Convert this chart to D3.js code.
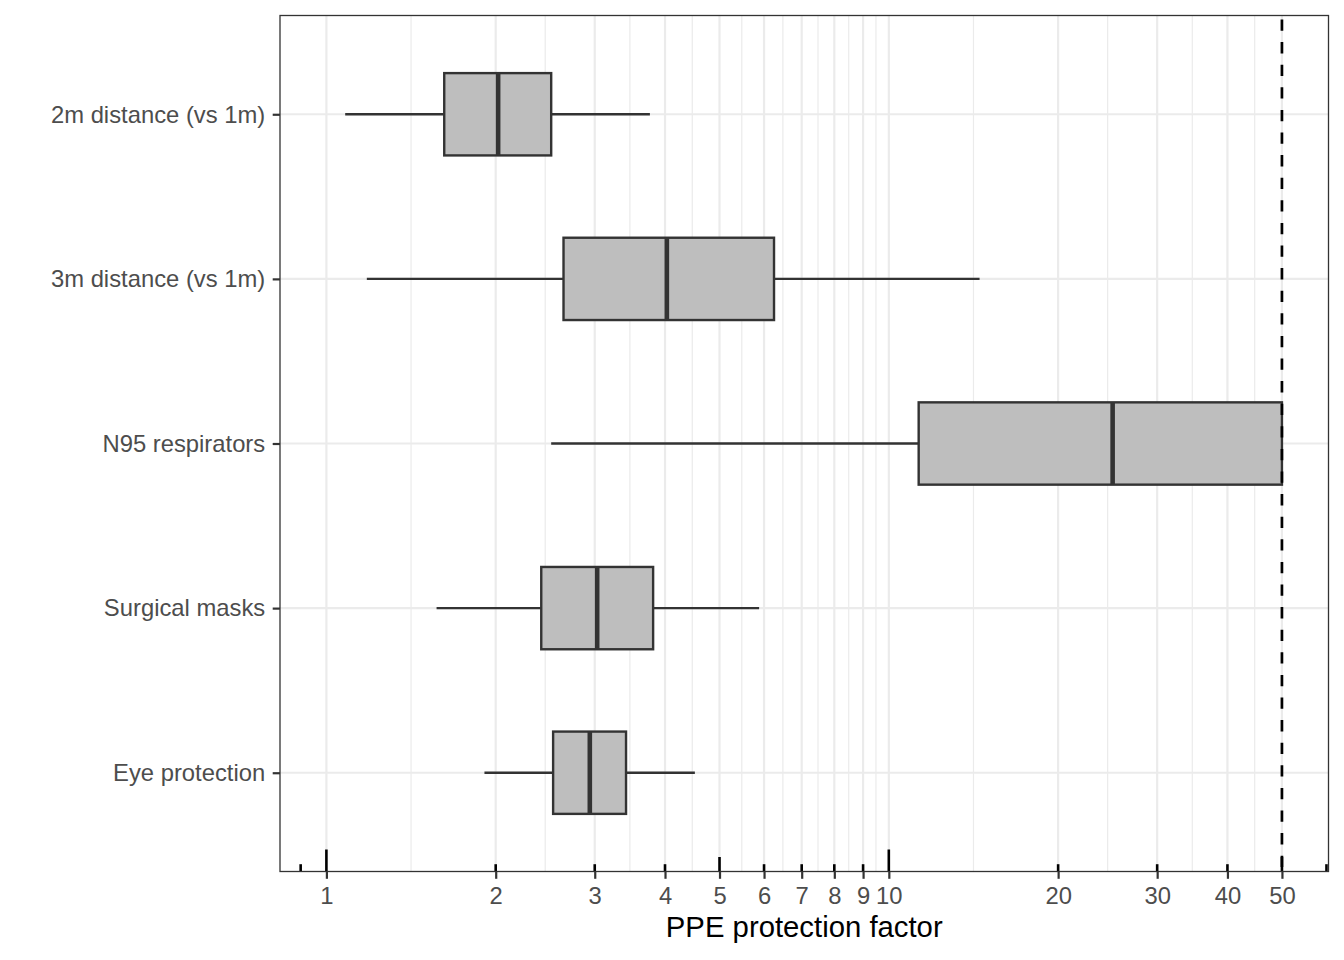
<!DOCTYPE html>
<html>
<head>
<meta charset="utf-8">
<script src="https://cdnjs.cloudflare.com/ajax/libs/d3/7.8.5/d3.min.js"></script>
<style>
  body { margin: 0; background: #fff; }
  text { font-family: "Liberation Sans", Arial, sans-serif; }
</style>
</head>
<body>
<svg id="grafico" width="1344" height="960"></svg>
<script>
// dados (fator de proteção, escala log)
var categorias = ["2m distance (vs 1m)", "3m distance (vs 1m)", "N95 respirators", "Surgical masks", "Eye protection"];
var bigodeInf  = [1.08, 1.18, 2.51, 1.57, 1.91];
var quartil1   = [1.62, 2.64, 11.3, 2.41, 2.53];
var mediana    = [2.02, 4.03, 25.0, 3.03, 2.94];
var quartil3   = [2.51, 6.25, 50, 3.81, 3.41];
var bigodeSup  = [3.76, 14.5, 50, 5.88, 4.52];

var ticksX = [1, 2, 3, 4, 5, 6, 7, 8, 9, 10, 20, 30, 40, 50];
var logTicks = [0.9, 1, 2, 3, 4, 5, 6, 7, 8, 9, 10, 20, 30, 40, 50, 60];
var linhaRef = 50;
var tituloX = "PPE protection factor";

var svg = d3.select("#grafico"),
    margin = {top: 15.5, right: 15.5, bottom: 88.5, left: 280},
    width = +svg.attr("width") - margin.left - margin.right,
    height = +svg.attr("height") - margin.top - margin.bottom;

var g = svg.append("g").attr("transform", "translate(" + margin.left + "," + margin.top + ")");

var x = d3.scaleLog()
    .domain([0.827, 60.5])
    .range([0, width]);

var y = d3.scalePoint()
    .domain(categorias)
    .range([0, height])
    .padding(0.6);

var meiaAltura = y.step() * 0.25;

// grades secundárias: ponto médio (log) entre ticks principais
var minor = [];
for (var i = 0; i < ticksX.length - 1; i++) {
  minor.push(Math.sqrt(ticksX[i] * ticksX[i + 1]));
}

g.append("g").selectAll("line")
  .data(minor)
  .enter().append("line")
    .attr("x1", function(d) { return x(d); })
    .attr("x2", function(d) { return x(d); })
    .attr("y1", 0).attr("y2", height)
    .attr("stroke", "#ebebeb")
    .attr("stroke-width", 1.2);

g.append("g").selectAll("line")
  .data(ticksX)
  .enter().append("line")
    .attr("x1", function(d) { return x(d); })
    .attr("x2", function(d) { return x(d); })
    .attr("y1", 0).attr("y2", height)
    .attr("stroke", "#ebebeb")
    .attr("stroke-width", 2.2);

g.append("g").selectAll("line")
  .data(categorias)
  .enter().append("line")
    .attr("x1", 0).attr("x2", width)
    .attr("y1", function(d) { return y(d); })
    .attr("y2", function(d) { return y(d); })
    .attr("stroke", "#ebebeb")
    .attr("stroke-width", 2.2);

// boxplots
var caixas = g.append("g").selectAll("g")
  .data(categorias)
  .enter().append("g");

caixas.append("line")
    .attr("x1", function(d, i) { return x(bigodeInf[i]); })
    .attr("x2", function(d, i) { return x(quartil1[i]); })
    .attr("y1", function(d) { return y(d); })
    .attr("y2", function(d) { return y(d); })
    .attr("stroke", "#333333")
    .attr("stroke-width", 2.4);

caixas.append("line")
    .attr("x1", function(d, i) { return x(quartil3[i]); })
    .attr("x2", function(d, i) { return x(bigodeSup[i]); })
    .attr("y1", function(d) { return y(d); })
    .attr("y2", function(d) { return y(d); })
    .attr("stroke", "#333333")
    .attr("stroke-width", 2.4);

caixas.append("rect")
    .attr("x", function(d, i) { return x(quartil1[i]); })
    .attr("width", function(d, i) { return x(quartil3[i]) - x(quartil1[i]); })
    .attr("y", function(d) { return y(d) - meiaAltura; })
    .attr("height", meiaAltura * 2)
    .attr("fill", "#bebebe")
    .attr("stroke", "#333333")
    .attr("stroke-width", 2.4);

caixas.append("line")
    .attr("x1", function(d, i) { return x(mediana[i]); })
    .attr("x2", function(d, i) { return x(mediana[i]); })
    .attr("y1", function(d) { return y(d) - meiaAltura; })
    .attr("y2", function(d) { return y(d) + meiaAltura; })
    .attr("stroke", "#333333")
    .attr("stroke-width", 4.6);

// linha tracejada de referência
g.append("line")
    .attr("x1", x(linhaRef)).attr("x2", x(linhaRef))
    .attr("y1", 0).attr("y2", height)
    .attr("stroke", "#000")
    .attr("stroke-width", 2.7)
    .attr("stroke-dasharray", "11.3,11.3")
    .attr("stroke-dashoffset", -4);

// annotation_logticks
function tamanhoTick(v) {
  var m = Math.round(v / Math.pow(10, Math.floor(Math.log10(v) + 1e-9)));
  if (m == 1) return 22;
  if (m == 5) return 14.5;
  return 7.3;
}

g.append("g").selectAll("line")
  .data(logTicks)
  .enter().append("line")
    .attr("x1", function(d) { return x(d); })
    .attr("x2", function(d) { return x(d); })
    .attr("y1", height)
    .attr("y2", function(d) { return height - tamanhoTick(d); })
    .attr("stroke", "#000")
    .attr("stroke-width", 2.6);

// borda do painel
g.append("rect")
    .attr("x", 0).attr("y", 0)
    .attr("width", width).attr("height", height)
    .attr("fill", "none")
    .attr("stroke", "#333333")
    .attr("stroke-width", 1.3);

// eixos
var eixoX = g.append("g")
    .attr("transform", "translate(0," + height + ")")
    .call(d3.axisBottom(x).tickValues(ticksX).tickFormat(d3.format("d")).tickSize(7.3).tickPadding(8));

var eixoY = g.append("g")
    .call(d3.axisLeft(y).tickSize(7.3).tickPadding(7.5));

[eixoX, eixoY].forEach(function(a) {
  a.select(".domain").remove();
  a.selectAll(".tick line").attr("stroke", "#333333").attr("stroke-width", 2.2);
  a.selectAll(".tick text")
    .attr("fill", "#4d4d4d")
    .attr("font-size", 23.8)
    .attr("font-family", "'Liberation Sans', Arial, sans-serif");
});

eixoY.selectAll(".tick text").attr("dy", "0.33em");

svg.append("text")
    .attr("x", margin.left + width / 2)
    .attr("y", 937)
    .attr("text-anchor", "middle")
    .attr("font-size", 29.3)
    .attr("fill", "#000")
    .text(tituloX);
</script>
</body>
</html>
